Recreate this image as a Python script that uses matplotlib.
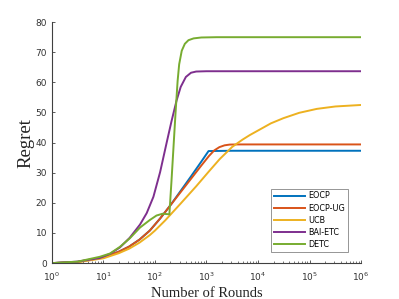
import numpy as np
import matplotlib
matplotlib.use("Agg")
import matplotlib.pyplot as plt

# ── Data (x given as log10 of rounds) ──
eocp_logx = [0, 0.5, 1.0, 1.3, 1.5, 1.7, 1.9, 2.1, 2.3, 2.5, 2.7, 2.9, 3.04, 3.5, 6]
eocp_y = [0, 0.4, 1.9, 3.8, 5.5, 7.8, 10.8, 14.8, 19.2, 24.0, 28.8, 33.7, 37.2, 37.3, 37.3]

ug_logx = [0, 0.5, 1.0, 1.3, 1.5, 1.7, 1.9, 2.1, 2.3, 2.5, 2.7, 2.9, 3.05, 3.15, 3.25,
           3.35, 3.45, 3.6, 6]
ug_y = [0, 0.4, 1.9, 3.8, 5.5, 7.8, 10.8, 14.8, 19.2, 23.6, 28.0, 32.4, 35.6, 37.4,
        38.5, 39.1, 39.35, 39.4, 39.4]

ucb_logx = [0, 0.5, 1.0, 1.3, 1.5, 1.7, 1.9, 2.0, 2.2, 2.5, 2.8, 3.05, 3.26, 3.5,
            3.7, 3.84, 4.04, 4.25, 4.49, 4.8, 5.14, 5.5, 6]
ucb_y = [0, 0.3, 1.6, 3.3, 4.8, 6.8, 9.3, 10.8, 14.2, 19.8, 25.5, 30.5, 34.6, 38.6,
         41.0, 42.5, 44.4, 46.4, 48.1, 49.9, 51.2, 52.0, 52.5]

bai_logx = [0, 0.5, 0.93, 1.13, 1.32, 1.51, 1.71, 1.84, 1.97, 2.1, 2.23, 2.32, 2.42,
            2.5, 2.6, 2.7, 2.8, 3.0, 6]
bai_y = [0, 0.5, 1.7, 3.1, 5.2, 8.4, 12.8, 16.6, 22.0, 30.2, 40.2, 47.0, 54.0,
         58.5, 61.8, 63.2, 63.6, 63.7, 63.7]

detc_logx = [0, 0.5, 0.93, 1.13, 1.32, 1.51, 1.71, 1.9, 2.03, 2.15, 2.28, 2.32, 2.36,
             2.40, 2.44, 2.47, 2.52, 2.58, 2.65, 2.75, 2.9, 3.2, 6]
detc_y = [0, 0.5, 2.1, 3.2, 5.4, 8.2, 11.8, 14.3, 15.8, 16.4, 16.2, 27.0, 38.5,
          50.0, 60.5, 66.0, 70.5, 72.8, 74.0, 74.6, 74.9, 75.0, 75.0]

series = [
    ("EOCP", eocp_logx, eocp_y, "#0072BD"),
    ("EOCP-UG", ug_logx, ug_y, "#D95319"),
    ("UCB", ucb_logx, ucb_y, "#EDB120"),
    ("BAI-ETC", bai_logx, bai_y, "#7E2F8E"),
    ("DETC", detc_logx, detc_y, "#77AC30"),
]

# ── Plot ───────────────────────────────────────────────────────
fig = plt.figure(figsize=(3.99, 2.99), dpi=100)
ax = fig.add_axes([0.130, 0.120, 0.775, 0.806])

for name, lx, y, col in series:
    ax.plot(10 ** np.array(lx), y, color=col, linewidth=1.4, label=name)

ax.set_xscale("log")
ax.set_xlim(1, 1e6)
ax.set_ylim(0, 80)
ax.set_yticks(range(0, 81, 10))
ax.set_xticks([10 ** k for k in range(7)])

axis_col = "#404040"
for s in ["top", "right"]:
    ax.spines[s].set_visible(False)
for s in ["left", "bottom"]:
    ax.spines[s].set_color(axis_col)
    ax.spines[s].set_linewidth(0.8)
ax.tick_params(which="both", direction="in", colors=axis_col, labelsize=6.5,
               labelcolor="#333333")
ax.tick_params(which="major", length=2.5, width=0.6)
ax.tick_params(which="minor", length=1.5, width=0.5)
ax.tick_params(axis="x", pad=5.5)

ax.set_xlabel("Number of Rounds", family="Liberation Serif", fontsize=10.5,
              color="#222222", labelpad=2.5)
ax.set_ylabel("Regret", family="Liberation Serif", fontsize=13.5,
              color="#222222", labelpad=1)

leg = ax.legend(loc="lower left", bbox_to_anchor=(0.709, 0.046), fontsize=5.8,
                frameon=True, fancybox=False, handlelength=3.9,
                handletextpad=0.4, labelspacing=0.4, borderpad=0.35,
                borderaxespad=0)
leg.get_frame().set_edgecolor("#666666")
leg.get_frame().set_linewidth(0.6)

plt.savefig("out.png", dpi=100)
